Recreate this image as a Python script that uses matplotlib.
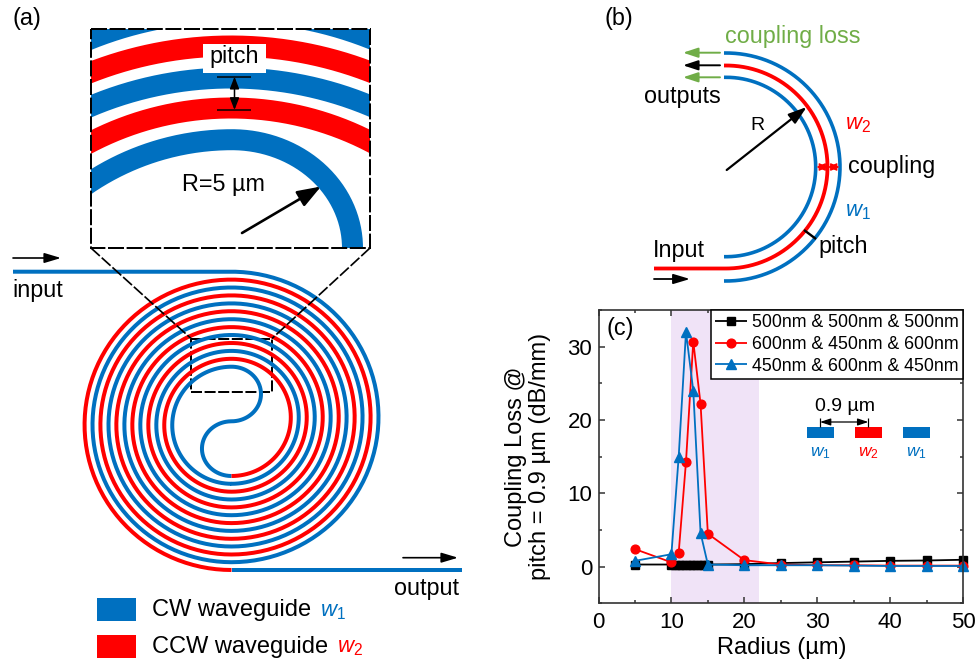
import numpy as np
import matplotlib
matplotlib.use('Agg')
import matplotlib.pyplot as plt
from matplotlib.patches import Rectangle

plt.rcParams['font.family'] = ['Liberation Sans', 'DejaVu Sans']
plt.rcParams['mathtext.fontset'] = 'custom'
plt.rcParams['mathtext.it'] = 'Liberation Sans:italic'
plt.rcParams['mathtext.rm'] = 'Liberation Sans'
plt.rcParams['lines.solid_capstyle'] = 'butt'

BLUE = '#0070C0'
RED = '#FF0000'
GREEN = '#70AD47'
PX = 0.72  # one pixel in points at dpi 100
RING = 4 * PX

# panel (c) values
radius_black = [5, 10, 10.5, 11, 11.5, 12, 12.5, 13, 13.5, 14, 14.5, 15, 20, 25, 30, 35, 40, 45, 50]
loss_black = [0.3, 0.3, 0.3, 0.3, 0.3, 0.3, 0.3, 0.3, 0.3, 0.3, 0.3, 0.3, 0.35, 0.5, 0.6, 0.7, 0.8, 0.85, 0.95]
radius_sweep = [5, 10, 11, 12, 13, 14, 15, 20, 25, 30, 35, 40, 45, 50]
loss_red = [2.4, 0.6, 1.9, 14.3, 30.7, 22.2, 4.5, 0.9, 0.3, 0.2, 0.2, 0.15, 0.15, 0.15]
loss_blue = [0.8, 1.7, 15.0, 32.0, 24.0, 4.6, 0.3, 0.2, 0.2, 0.2, 0.15, 0.1, 0.1, 0.1]
legend_labels = ['500nm & 500nm & 500nm', '600nm & 450nm & 600nm', '450nm & 600nm & 450nm']

# panel (a) spiral: crossing heights of the rings on the vertical through the centre
blue_tops = [271.7, 287.5, 303.4, 319.2, 335.0, 350.9, 366.7]
blue_bottoms = [562.2, 546.5, 530.9, 515.2, 499.5, 483.8]
red_tops = [358.8, 343.0, 327.1, 311.2, 295.4, 279.6]
red_bottoms = [476.0, 491.7, 507.4, 523.1, 538.8, 554.5, 570.0]
SPIRAL_X = 231.5

fig = plt.figure(figsize=(9.75, 6.66), dpi=100)

# chart (c)
ax = fig.add_axes([598.5 / 975, (666 - 603.4) / 666, 364.5 / 975, 293.4 / 666])
ax.axvspan(10, 22, color='#F0E3F7', lw=0)
ax.plot(radius_black, loss_black, '-s', color='black', lw=1.3, ms=6, label=legend_labels[0], clip_on=False)
ax.plot(radius_sweep, loss_red, '-o', color=RED, lw=1.3, ms=6.3, label=legend_labels[1], clip_on=False)
ax.plot(radius_sweep, loss_blue, '-^', color=BLUE, lw=1.3, ms=6.5, label=legend_labels[2], clip_on=False)
ax.set_xlim(0, 50)
ax.set_ylim(-5, 35)
ax.set_xticks(range(0, 51, 10))
ax.set_xticks(range(5, 50, 10), minor=True)
ax.set_yticks([0, 10, 20, 30])
ax.set_yticks([-5, 5, 15, 25, 35], minor=True)
ax.tick_params(which='both', direction='in', top=True, right=True, width=1.1, labelsize=16, colors='#333333', labelcolor='black')
ax.tick_params(which='major', length=4.3)
ax.tick_params(which='minor', length=2.5)
ax.tick_params(axis='x', pad=6)
ax.tick_params(axis='y', pad=4.5)
for spine in ax.spines.values():
    spine.set_linewidth(1.2)
    spine.set_color('#333333')
ax.set_xlabel('Radius (µm)', fontsize=17, va='center')
ax.xaxis.set_label_coords(0.503, -0.152)
ax.set_ylabel('Coupling Loss @\npitch = 0.9 µm (dB/mm)', fontsize=17, va='center', linespacing=1.12)
ax.yaxis.set_label_coords((528 - 598.5) / 364.5, 0.5)
leg = ax.legend(loc='upper right', bbox_to_anchor=(1.0, 1.0), borderaxespad=0, fontsize=12.8,
                fancybox=False, framealpha=1, edgecolor='black', handlelength=1.8,
                labelspacing=0.26, borderpad=0.25, handletextpad=0.25)
leg.get_frame().set_linewidth(1.1)

# everything else is drawn on a full-figure layer in pixel coordinates
ov = fig.add_axes([0, 0, 1, 1], zorder=5)
ov.set_xlim(0, 975)
ov.set_ylim(666, 0)
ov.axis('off')


def half_ring(y_start, y_end, side, x0=SPIRAL_X, stretch=1.012, n=120):
    cy = (y_start + y_end) / 2
    r = abs(y_end - y_start) / 2
    a = np.linspace(-np.pi / 2, np.pi / 2, n)
    xs = x0 + side * stretch * r * np.cos(a)
    ys = cy + np.sign(y_end - y_start) * r * np.sin(a)
    return xs, ys


def arrow(x0, y0, x1, y1, color='black', lw=1.4, style='-|>', head=(1.0, 0.3), scale=10):
    ov.annotate('', xy=(x1, y1), xytext=(x0, y0),
                arrowprops=dict(arrowstyle=f'{style},head_length={head[0]},head_width={head[1]}',
                                color=color, lw=lw, shrinkA=0, shrinkB=0, mutation_scale=scale))


def label(x, y, s, size=16.8, color='black', ha='left', **kw):
    ov.text(x, y, s, fontsize=size, color=color, ha=ha, va='center', **kw)


# spiral, blue strand from the input inwards, one polyline so no seams show
bx, by = [np.array([13.0])], [np.array([blue_tops[0]])]
for i, b in enumerate(blue_bottoms):
    xs, ys = half_ring(blue_tops[i], b, 1)
    bx.append(xs)
    by.append(ys)
    xs, ys = half_ring(b, blue_tops[i + 1], -1)
    bx.append(xs)
    by.append(ys)
# s-bend in the middle
xs, ys = half_ring(blue_tops[-1], 421.3, 1, stretch=1.08)
bx.append(xs)
by.append(ys)
xs, ys = half_ring(421.3, red_bottoms[0], -1, stretch=1.08)
bx.append(xs)
by.append(ys)
ov.plot(np.concatenate(bx), np.concatenate(by), color=BLUE, lw=RING)

# red strand from the centre outwards
rx, ry = [], []
for i, t in enumerate(red_tops):
    xs, ys = half_ring(red_bottoms[i], t, 1)
    rx.append(xs)
    ry.append(ys)
    xs, ys = half_ring(t, red_bottoms[i + 1], -1)
    rx.append(xs)
    ry.append(ys)
ov.plot(np.concatenate(rx), np.concatenate(ry), color=RED, lw=RING)
ov.plot([SPIRAL_X, 462], [red_bottoms[-1]] * 2, color=BLUE, lw=RING)

# zoom box and its guide lines
ov.add_patch(Rectangle((191, 338.5), 81, 53.5, fill=False, ec='black', lw=2 * PX, ls=(0, (5.5, 1.3))))
ov.plot([91, 191], [248, 338.5], color='black', lw=1.7 * PX, ls=(0, (7, 1.5)))
ov.plot([370, 272], [248, 338.5], color='black', lw=1.7 * PX, ls=(0, (7, 1.5)))

# enlarged inset of (a)
box = Rectangle((91, 29), 279, 219, fill=False, ec='black', lw=2 * PX, ls=(0, (8, 1.3)), zorder=6)
ov.add_patch(box)
clip = Rectangle((91, 29), 279, 219, transform=ov.transData)
inset_arcs = [(12, 380, BLUE), (46, 387, RED), (78, 362, BLUE), (108, 305, RED)]
xa = np.linspace(70, 392, 300)
for y0, r, c in inset_arcs:
    ya = y0 + r - np.sqrt(r ** 2 - (xa - 231) ** 2)
    line, = ov.plot(xa, ya, color=c, lw=21 * PX)
    line.set_clip_path(clip)
xl = np.linspace(70, 232, 100)
yl = 139.7 + 258 - np.sqrt(258 ** 2 - (xl - 232) ** 2)
t = np.linspace(np.pi / 2, 0, 100)
xr = 232 + 120.5 * np.cos(t)
yr = 248 - 108.3 * np.sin(t)
line, = ov.plot(np.r_[xl, xr], np.r_[yl, yr], color=BLUE, lw=21 * PX)
line.set_clip_path(clip)

ov.add_patch(Rectangle((203, 44), 63, 29, fc='white', ec='none', zorder=4))
ov.text(234, 57, 'pitch', fontsize=16.8, ha='center', va='center', zorder=5)
ov.plot([217, 251], [76.7, 76.7], color='black', lw=1.5 * PX)
ov.plot([217, 251], [110, 110], color='black', lw=1.5 * PX)
arrow(234.5, 76.7, 234.5, 110, style='<|-|>', head=(0.9, 0.35), scale=8, lw=1.1)
label(223, 185, 'R=5 µm', ha='center')
arrow(242, 233, 321, 186.5, lw=1.9, head=(1.1, 0.4), scale=13)

arrow(13, 258, 61, 258, lw=1.2)
label(12, 291, 'input')
arrow(403, 557.7, 458, 557.7, lw=1.2)
label(394, 588, 'output')
label(12, 18, '(a)')
label(605, 19, '(b)')
label(606, 328, '(c)')

# legend of (a)
ov.add_patch(Rectangle((96.7, 598), 39.5, 22.7, fc=BLUE, ec='none'))
ov.add_patch(Rectangle((96.7, 635), 39.5, 22.7, fc=RED, ec='none'))
label(152, 610, 'CW waveguide', size=17)
label(152, 647, 'CCW waveguide', size=17)
label(319.5, 611, r'$\mathit{w_1}$', size=16, color=BLUE)
label(337, 648, r'$\mathit{w_2}$', size=16, color=RED)

# panel (b)
CX, CY = 726, 167
a = np.linspace(-np.pi / 2, np.pi / 2, 200)
for r, c, w in [(89.7, BLUE, 3.6), (114, BLUE, 3.6)]:
    ov.plot(np.r_[724, CX + r * np.cos(a), 724], np.r_[CY - r, CY + r * np.sin(a), CY + r],
            color=c, lw=w * PX)
ov.plot(np.r_[724, CX + 101.5 * np.cos(a), 654], np.r_[CY - 101.5, CY + 101.5 * np.sin(a), CY + 101.5],
        color=RED, lw=3.8 * PX)
arrow(720, 52.7, 683, 52.7, color=GREEN, head=(1.0, 0.33), scale=9)
arrow(720, 65.3, 683, 65.3, color='black', head=(1.0, 0.33), scale=9)
arrow(720, 77.3, 683, 77.3, color=GREEN, head=(1.0, 0.33), scale=9)
label(725, 36, 'coupling loss', color=GREEN)
label(644, 97, 'outputs')
label(757, 126, 'R', ha='center', size=14)
arrow(726.7, 170, 806.7, 107, lw=1.6, head=(1.0, 0.33), scale=11)
label(845, 125, r'$\mathit{w_2}$', size=16, color=RED)
label(848, 167, 'coupling')
label(845, 212, r'$\mathit{w_1}$', size=16, color=BLUE)
label(818, 247, 'pitch')
ov.plot([804, 816], [230, 239], color='black', lw=2.4 * PX)
label(653, 250, 'Input')
arrow(654, 279, 690, 279, lw=1.3)
arrow(816.5, 167, 828, 167, color=RED, lw=0.9, style='<|-|>', head=(0.8, 0.35), scale=6.5)
arrow(828, 167, 839.5, 167, color=RED, lw=0.9, style='<|-|>', head=(0.8, 0.35), scale=6.5)

# small sketch inside (c)
for x0, c in [(806.7, BLUE), (854.7, RED), (902.7, BLUE)]:
    ov.add_patch(Rectangle((x0, 427.3), 27.3, 11, fc=c, ec='none'))
label(845, 406.7, '0.9 µm', size=14, ha='center')
ov.plot([820, 820], [417.5, 427.3], color='black', lw=1.2 * PX)
ov.plot([868.3, 868.3], [417.5, 427.3], color='black', lw=1.2 * PX)
arrow(820, 422, 868.3, 422, style='<|-|>', head=(0.9, 0.3), scale=7, lw=0.9)
label(820, 453, r'$\mathit{w_1}$', size=12.5, color=BLUE, ha='center')
label(868, 453, r'$\mathit{w_2}$', size=12.5, color=RED, ha='center')
label(916, 453, r'$\mathit{w_1}$', size=12.5, color=BLUE, ha='center')

fig.savefig('out.png', dpi=100)
